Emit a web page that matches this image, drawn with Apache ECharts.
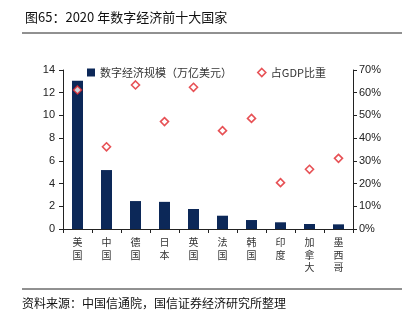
<!DOCTYPE html>
<html><head><meta charset="utf-8">
<script src="https://cdn.jsdelivr.net/npm/echarts@6/dist/echarts.min.js"></script>
<style>html,body{margin:0;padding:0;background:#fff}#c{width:409px;height:324px}</style>
</head><body><div id="c"></div>
<script>
const categories = ['美国','中国','德国','日本','英国','法国','韩国','印度','加拿大','墨西哥'];
const scaleValues = [13.05, 5.19, 2.46, 2.39, 1.76, 1.17, 0.79, 0.59, 0.44, 0.41];
const gdpShare = [61.2, 36.2, 63.4, 47.3, 62.4, 43.3, 48.7, 20.4, 26.3, 31.1];
const seriesNames = ['数字经济规模（万亿美元）', '占GDP比重'];
const titleText = '图65：2020 年数字经济前十大国家';
const sourceText = '资料来源：中国信通院，国信证券经济研究所整理';

const chart = echarts.init(document.getElementById('c'));
const cjk = '"Noto Sans CJK SC", sans-serif';
const num = '"Liberation Sans", Arial, sans-serif';
const navy = '#0c2858';
const red = '#e1262b';
chart.setOption({
  animation: false,
  title: {text: titleText, left: 20, top: 6, textStyle: {fontFamily: cjk, fontSize: 13, fontWeight: 'normal', color: '#111'}},
  graphic: [
    {type: 'line', shape: {x1: 22, y1: 33, x2: 402, y2: 33}, style: {stroke: '#222', lineWidth: 1}},
    {type: 'line', shape: {x1: 22, y1: 289, x2: 402, y2: 289}, style: {stroke: '#222', lineWidth: 1}},
    {type: 'text', left: 22, top: 297, style: {text: sourceText, font: '12px ' + cjk, fill: '#111'}}
  ],
  legend: [
    {left: 82, top: 62, itemWidth: 8, itemHeight: 8, textStyle: {fontFamily: cjk, fontSize: 11, color: '#333'}, itemGap: 4,
     data: [{name: seriesNames[0], icon: 'rect'}]},
    {left: 252, top: 62, itemWidth: 8, itemHeight: 8, textStyle: {fontFamily: cjk, fontSize: 11, color: '#333'},
     data: [{name: seriesNames[1], icon: 'diamond', itemStyle: {color: '#fff', borderColor: red, borderWidth: 1.6}}]}
  ],
  grid: {left: 63, right: 56, top: 70, bottom: 95},
  xAxis: {
    type: 'category', data: categories,
    axisLine: {lineStyle: {color: '#222', width: 1}},
    axisTick: {show: true, length: 4, lineStyle: {color: '#222'}},
    axisLabel: {interval: 0, margin: 7, fontFamily: cjk, fontSize: 10, color: '#333', lineHeight: 12.5,
      formatter: v => v.split('').join('\n')}
  },
  yAxis: [
    {type: 'value', min: 0, max: 14, interval: 2, splitLine: {show: false},
     axisLine: {show: true, lineStyle: {color: '#222'}},
     axisTick: {show: true, length: 4, lineStyle: {color: '#222'}},
     axisLabel: {margin: 8, fontFamily: num, fontSize: 11, color: '#222'}},
    {type: 'value', min: 0, max: 70, interval: 10, splitLine: {show: false}, position: 'right',
     axisLine: {show: true, lineStyle: {color: '#222'}},
     axisTick: {show: true, length: 4, lineStyle: {color: '#222'}},
     axisLabel: {margin: 6, fontFamily: num, fontSize: 11, color: '#222', formatter: '{value}%'}}
  ],
  series: [
    {name: seriesNames[0], type: 'bar', data: scaleValues, barWidth: 11, itemStyle: {color: navy}},
    {name: seriesNames[1], type: 'scatter', yAxisIndex: 1, data: gdpShare, symbol: 'diamond', symbolSize: 8,
     itemStyle: {color: '#fff', borderColor: red, borderWidth: 1.6}}
  ]
});
</script></body></html>
